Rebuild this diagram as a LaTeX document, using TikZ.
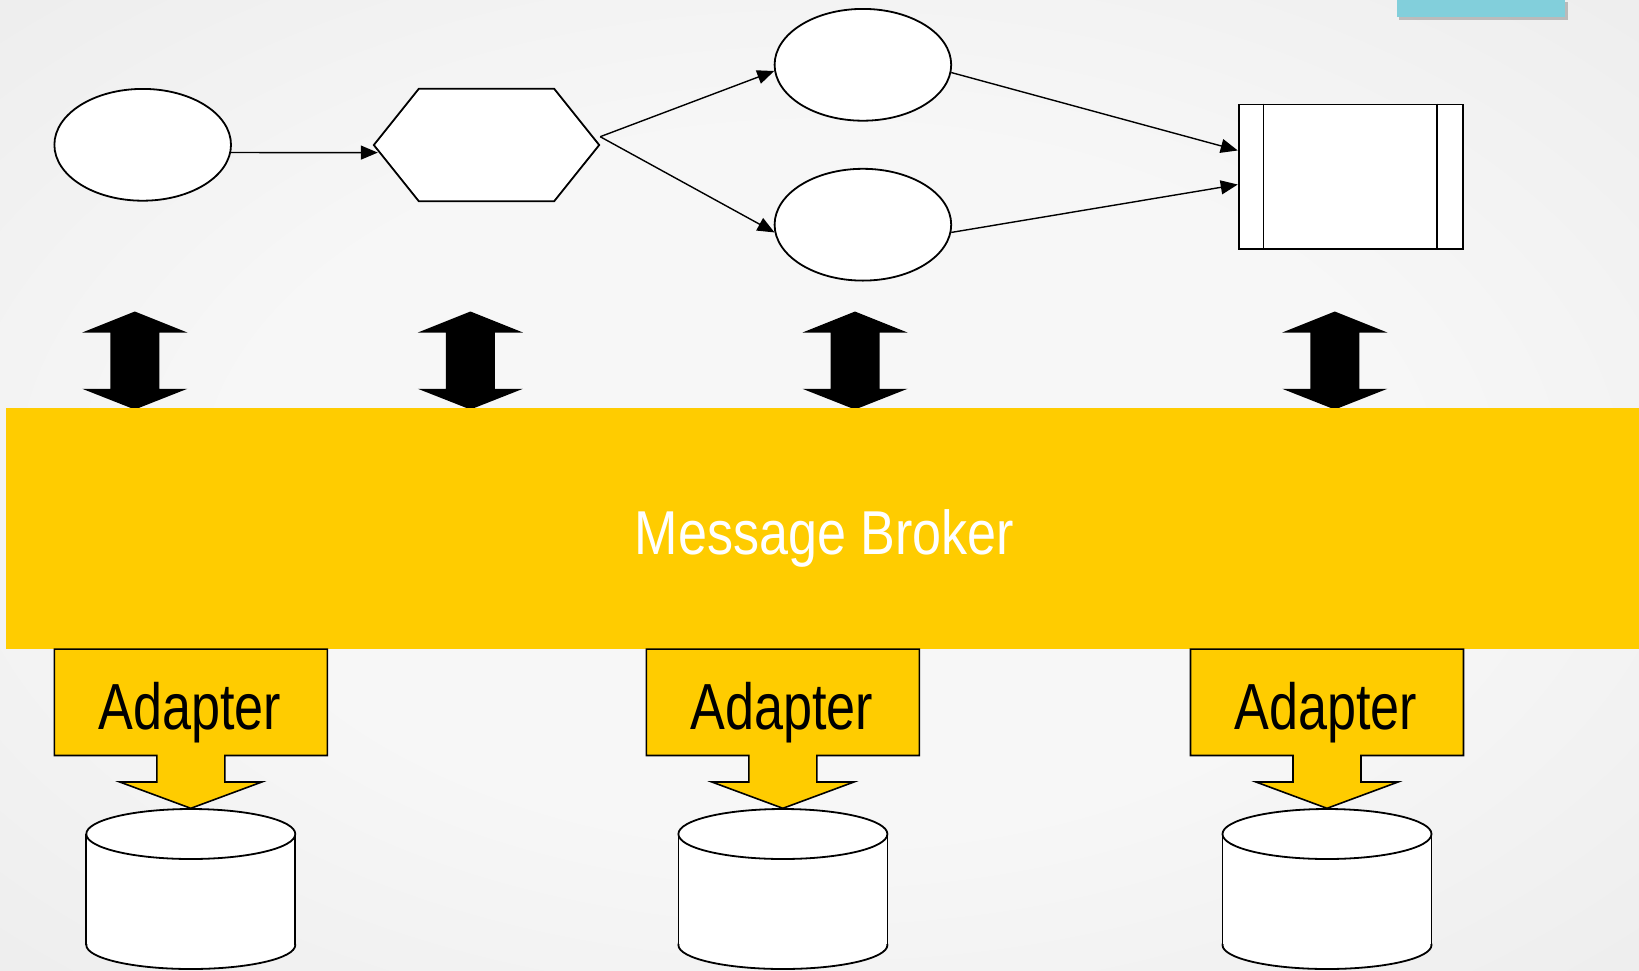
\documentclass[tikz,border=0pt]{standalone}
\usepackage{fontspec}
\usetikzlibrary{arrows.meta,shapes.geometric,calc}
\newfontfamily\brokerfont[FakeStretch=0.84]{Liberation Sans}
\newfontfamily\adapterfont[FakeStretch=0.80]{Liberation Sans}
\definecolor{broker}{HTML}{FFCC00}
\definecolor{cyanbox}{HTML}{82CFDB}
\definecolor{bgin}{HTML}{F7F7F7}
\definecolor{bgout}{HTML}{DADADA}
\pgfdeclareradialshading{bgshade}{\pgfpoint{0bp}{0bp}}{color(0bp)=(bgin); color(18bp)=(bgin); color(72bp)=(bgout); color(100bp)=(bgout)}
\tikzset{
  shp/.style={draw=black, fill=white, line width=1.8pt},
  ell/.style={shp, ellipse, inner sep=0pt, minimum width=176.6pt, minimum height=111.8pt},
  conn/.style={line width=1.4pt, -{Triangle[length=17pt,width=14pt]}},
  callout/.style={draw=black, fill=broker, line width=1.6pt},
  adaptertext/.style={anchor=base, inner sep=0pt, font=\adapterfont\fontsize{65.2}{66}\selectfont, text=black},
}
\begin{document}
\begin{tikzpicture}[x=1pt,y=-1pt]
\useasboundingbox (0,0) rectangle (1639,970);
\shade[shading=bgshade] (0,0) rectangle (1639,970);

% cyan tab top right
\fill[black, opacity=0.22] (1399,2) rectangle (1567.5,19.5);
\fill[cyanbox] (1396.5,-1) rectangle (1564.8,16.7);

% top process nodes
\node[ell] (e1) at (142.7,144.8) {};
\node[inner sep=0pt, minimum width=225pt, minimum height=112pt] (hex) at (486.5,145) {};
\coordinate (hexr) at ($(hex.east)+(1,-8.3)$);
\draw[shp, line join=miter] (hex.west) -- ($(hex.north west)+(45,0)$) -- ($(hex.north east)+(-45,0)$)
  -- (hex.east) -- ($(hex.south east)+(-45,0)$) -- ($(hex.south west)+(45,0)$) -- cycle;
\node[ell] (e2) at (862.9,64.8) {};
\node[ell] (e3) at (862.9,224.7) {};
\node[shp, rectangle, inner sep=0pt, minimum width=224.7pt, minimum height=144.3pt] (box) at (1351,176.6) {};
\draw[line width=1.3pt] ($(box.north west)+(26,0)$) -- ($(box.south west)+(26,0)$);
\draw[line width=1.3pt] ($(box.north east)+(-27.2,0)$) -- ($(box.south east)+(-27.2,0)$);

% connectors
\draw[conn] (e1.-5) -- ($(hex.west)+(4,7.6)$);
\draw[conn] (hexr) -- (e2.184);
\draw[conn] (hexr) -- (e3.185);
\draw[conn] (e2.-5) -- (box.167.5);
\draw[conn] (e3.-5) -- (box.184.3);

% double arrows
\foreach \c in {134.8,470.4,855.0,1334.8}{
  \fill[black] (\c,311.5) -- (\c+52.5,332.5) -- (\c+24.5,332.5) -- (\c+24.5,388.8) -- (\c+52.5,388.8)
    -- (\c,409.5) -- (\c-52.5,388.8) -- (\c-24.5,388.8) -- (\c-24.5,332.5) -- (\c-52.5,332.5) -- cycle;
}

% broker band
\fill[broker] (6,407.7) rectangle (1639,649.1);
\node[anchor=base, inner sep=0pt, text=white, font=\brokerfont\fontsize{62}{62}\selectfont] (mb) at (824.3,554.3) {Message Broker};

% adapters and databases
\foreach \cx/\nm in {190.8/a1, 782.9/a2, 1327/a3}{
  \draw[callout, line join=miter] (\cx-136.5,649.1) -- (\cx+136.5,649.1) -- (\cx+136.5,755.5) -- (\cx+34,755.5)
    -- (\cx+34,782) -- (\cx+71,782) -- (\cx,808.3) -- (\cx-71,782) -- (\cx-34,782) -- (\cx-34,755.5)
    -- (\cx-136.5,755.5) -- cycle;
  \node[adaptertext] (\nm) at (\cx-1,729) {Adapter};
  % cylinder
  \fill[white] (\cx,945) ellipse [x radius=104.5, y radius=24];
  \draw[line width=1.8pt] (\cx,945) ellipse [x radius=104.5, y radius=24];
  \fill[white] (\cx-103.6,834) rectangle (\cx+103.6,944);
  \draw[line width=1.8pt] (\cx-104.5,834) -- (\cx-104.5,945);
  \draw[line width=1.8pt] (\cx+104.5,834) -- (\cx+104.5,945);
  \draw[shp] (\cx,834) ellipse [x radius=104.5, y radius=25];
}
\end{tikzpicture}
\end{document}
